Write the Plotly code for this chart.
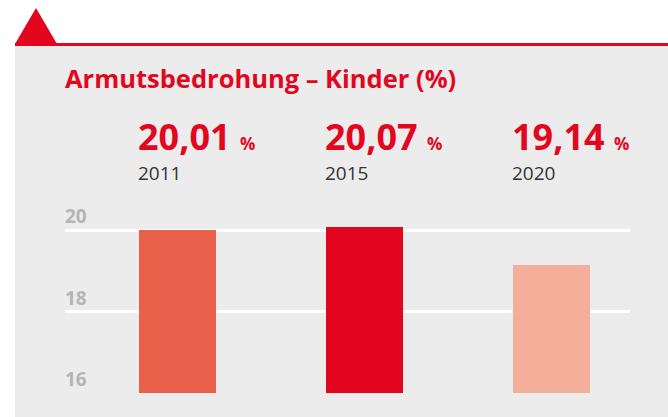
import plotly.graph_objects as go

years = ["2011", "2015", "2020"]
values = [20.01, 20.07, 19.14]
value_labels = ["20,01", "20,07", "19,14"]
bar_colors = ["#e8604a", "#e2071f", "#f4af9a"]
y_ticks = [16, 18, 20]

W, H = 668, 417
RED = "#e2071f"


def px(x):
    return x / W


def py(y):
    return 1 - y / H


fig = go.Figure()

xs = list(range(len(years)))
fig.add_trace(go.Bar(
    x=xs,
    y=values,
    width=0.41,
    marker=dict(color=bar_colors, line=dict(width=0)),
    hoverinfo="skip",
))

shapes = [
    # grey panel
    dict(type="rect", xref="paper", yref="paper", x0=px(15), x1=px(668), y0=py(417), y1=py(45),
         fillcolor="#ececec", line=dict(width=0), layer="below"),
    # red top rule
    dict(type="rect", xref="paper", yref="paper", x0=px(15), x1=px(668), y0=py(46), y1=py(43),
         fillcolor=RED, line=dict(width=0), layer="below"),
    # triangle
    dict(type="path", xref="paper", yref="paper",
         path=f"M {px(15)},{py(44)} L {px(36)},{py(8)} L {px(57)},{py(44)} Z",
         fillcolor=RED, line=dict(width=0), layer="below"),
]

annotations = [
    dict(text="<b>Armutsbedrohung – Kinder (%)</b>", xref="paper", yref="paper",
         x=px(63), y=py(78), xanchor="left", yanchor="middle", showarrow=False,
         font=dict(family="Open Sans", size=25.5, color=RED)),
]

for i, (lab, yr) in enumerate(zip(value_labels, years)):
    annotations.append(dict(
        text=f"<b>{lab}</b> <b><span style='font-size:17px'>%</span></b>",
        xref="x", yref="paper", x=i - 0.215, y=py(136), xanchor="left", yanchor="middle",
        borderpad=0, showarrow=False, font=dict(family="Open Sans", size=36, color=RED)))
    annotations.append(dict(
        text=yr, xref="x", yref="paper", x=i - 0.215, y=py(172.5), xanchor="left", yanchor="middle",
        borderpad=0, showarrow=False, font=dict(family="Open Sans", size=19, color="#333333")))

for t in y_ticks:
    annotations.append(dict(
        text=f"<b>{t}</b>", xref="paper", yref="y", x=px(63), y=t, xanchor="left", yanchor="bottom",
        yshift=-1, showarrow=False, font=dict(family="Open Sans", size=19, color="#b5b5b5")))

fig.update_layout(
    width=W,
    height=H,
    margin=dict(l=0, r=0, t=0, b=0),
    paper_bgcolor="white",
    plot_bgcolor="rgba(0,0,0,0)",
    showlegend=False,
    shapes=shapes,
    annotations=annotations,
    xaxis=dict(domain=[px(65), px(630)], range=[-0.6, 2.42], showgrid=False, zeroline=False,
               showticklabels=False, fixedrange=True),
    yaxis=dict(domain=[py(393), py(218)], range=[16, 20.3], tickvals=y_ticks, showticklabels=False,
               gridcolor="white", gridwidth=3, zeroline=False, fixedrange=True),
    bargap=0,
)

# drop the default body margin so the figure sits flush in the window
fig.write_html("out.html", config={"displayModeBar": False},
               post_script="document.body.style.margin='0';document.body.style.overflow='hidden';")
